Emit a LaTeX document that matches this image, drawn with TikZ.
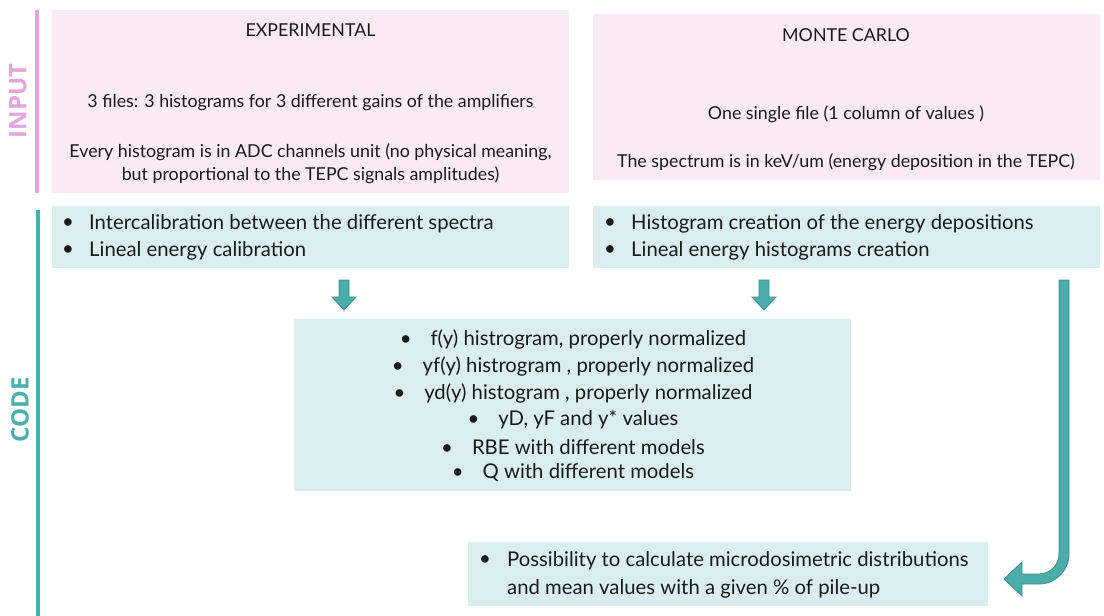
\documentclass[tikz,border=0pt]{standalone}
\usepackage{fontspec}
\setmainfont{Lato}
\newfontfamily\sidefont{Open Sans}
\definecolor{pinkfill}{HTML}{F9EAF6}
\definecolor{tealfill}{HTML}{DAEEF0}
\definecolor{pinkline}{HTML}{E2A6DE}
\definecolor{tealline}{HTML}{4AAFAD}
\definecolor{arrowfill}{HTML}{4AADAA}
\definecolor{arrowedge}{HTML}{3B8E8B}
\definecolor{txtcol}{HTML}{1A1A1A}
\begin{document}
\begin{tikzpicture}[x=1pt,y=-1pt,
  pinkbox/.style={fill=pinkfill, draw=none, inner sep=0pt, anchor=north west},
  tealbox/.style={fill=tealfill, draw=none, inner sep=0pt, anchor=north west},
  intxt/.style={inner sep=0pt, text=txtcol, font=\fontsize{17.8}{21}\selectfont},
  codetxt/.style={inner sep=0pt, text=txtcol, font=\fontsize{20.3}{24}\selectfont},
  bul/.style={codetxt, anchor=west},
  sidelbl/.style={rotate=90, inner sep=0pt, font=\sidefont\bfseries\fontsize{24}{24}\selectfont},
  blockarrow/.style={fill=arrowfill, draw=arrowedge, line width=0.8pt, line join=miter}
]
\path[use as bounding box] (0,0) rectangle (1104,616);

% side labels and lines
\node[sidelbl, text=pinkline] (inputlbl) at (18,101) {INPUT};
\draw[pinkline, line width=4pt] (37,10) coordinate (inA) -- (37,193) coordinate (inB);
\node[sidelbl, text=tealline] (codelbl) at (20,410) {CODE};
\draw[tealline, line width=4pt] (38,210) coordinate (cdA) -- (38,616) coordinate (cdB);

% input boxes
\node[pinkbox, minimum width=517pt, minimum height=183pt] (exp) at (52,10) {};
\node[intxt] (expT) at (310.5,30) {EXPERIMENTAL};
\node[intxt] (expA) at (310.5,103) {3 files: 3 histograms for 3 different gains of the amplifiers};
\node[intxt] (expB) at (310.5,152) {Every histogram is in ADC channels unit (no physical meaning,};
\node[intxt] (expC) at (310.5,175) {but proportional to the TEPC signals amplitudes)};

\node[pinkbox, minimum width=507pt, minimum height=166pt] (mc) at (593,14) {};
\node[intxt] (mcT) at (846,35) {MONTE CARLO};
\node[intxt] (mcA) at (846,114) {One single file (1 column of values )};
\node[intxt] (mcB) at (846,162) {The spectrum is in keV/um (energy deposition in the TEPC)};

% code boxes
\node[tealbox, minimum width=517pt, minimum height=62pt] (cal) at (52,206) {};
\node[bul] (calb1) at (62,224) {\textbullet};
\node[bul] (calt1) at (89,224) {Intercalibration between the different spectra};
\node[bul] (calb2) at (62,251) {\textbullet};
\node[bul] (calt2) at (89,251) {Lineal energy calibration};

\node[tealbox, minimum width=507pt, minimum height=62pt] (hist) at (593,206) {};
\node[bul] (hisb1) at (604,224) {\textbullet};
\node[bul] (hist1) at (631,224) {Histogram creation of the energy depositions};
\node[bul] (hisb2) at (604,251) {\textbullet};
\node[bul] (hist2) at (631,251) {Lineal energy histograms creation};

\node[tealbox, minimum width=557pt, minimum height=172pt] (res) at (294,319) {};
\node[codetxt] (r1) at (573,339) {\textbullet\hspace{19pt}f(y) histrogram, properly normalized};
\node[codetxt] (r2) at (573,366) {\textbullet\hspace{19pt}yf(y) histrogram , properly normalized};
\node[codetxt] (r3) at (573,393) {\textbullet\hspace{19pt}yd(y) histogram , properly normalized};
\node[codetxt] (r4) at (573,420) {\textbullet\hspace{19pt}yD, yF and y* values};
\node[codetxt] (r5) at (573,447) {\textbullet\hspace{19pt}RBE with different models};
\node[codetxt] (r6) at (573,473) {\textbullet\hspace{19pt}Q with different models};

\node[tealbox, minimum width=520pt, minimum height=64pt] (pile) at (468,542) {};
\node[bul] (pb1) at (479,561) {\textbullet};
\node[bul] (pt1) at (507,561) {Possibility to calculate microdosimetric distributions};
\node[bul] (pt2) at (507,589) {and mean values with a given \% of pile-up};

% down block arrows
\draw[blockarrow] (339,280) -- (349,280) -- (349,297) -- (356,297) -- (344,310) -- (332,297) -- (339,297) -- cycle;
\draw[blockarrow] (759,280) -- (769,280) -- (769,297) -- (776,297) -- (764,310) -- (752,297) -- (759,297) -- cycle;

% curved block arrow
\draw[blockarrow] (1059,280) -- (1069,280) -- (1069,554)
  .. controls (1069,570.6) and (1055.6,584) .. (1039,584)
  -- (1022,584) -- (1022,596) -- (1004,579) -- (1022,562) -- (1022,574) -- (1039,574)
  .. controls (1050,574) and (1059,565) .. (1059,554) -- cycle;
\end{tikzpicture}
\end{document}
